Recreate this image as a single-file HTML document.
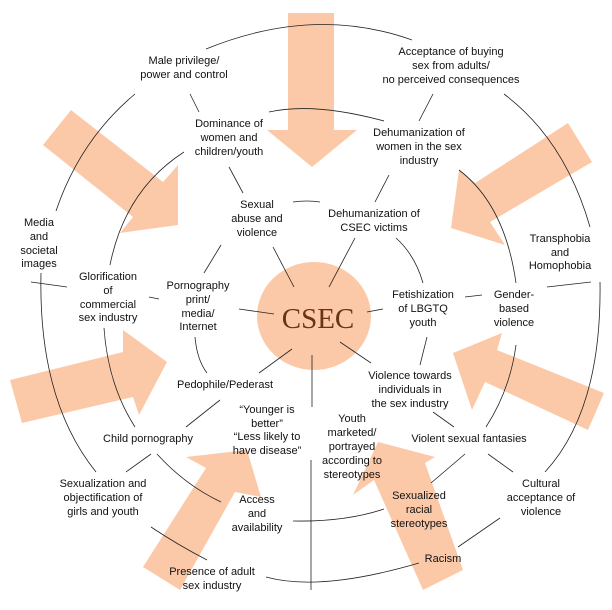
<!DOCTYPE html>
<html><head><meta charset="utf-8"><style>
html,body{margin:0;padding:0;background:#fff}
svg text{font-family:"Liberation Sans",sans-serif;font-size:11px;fill:#111;text-anchor:middle}
</style></head><body>
<svg width="612" height="605" viewBox="0 0 612 605" xmlns="http://www.w3.org/2000/svg">
<g fill="#fcc9a8">
<polygon points="288,13 334,13 334,130 357,130 312,167 267,130 288,130"/>
<polygon points="71,110 163,182 178,165 178,225 120,233 133,217 43,145"/>
<polygon points="568,123 592,162 490,222 505,245 451,228 459,170 475,183"/>
<polygon points="10,380 123,352 123,330 167,362 139,415 133,397 22,423"/>
<polygon points="604,393 588,430 485,382 472,410 453,353 502,333 497,350"/>
<polygon points="186,457 247,450 261,497 235,492 180,590 143,567 206,468"/>
<polygon points="378,442 435,457 425,463 463,570 423,590 374,480 353,495"/>
<ellipse cx="314" cy="316" rx="57" ry="54"/>
</g>
<g fill="none" stroke="#222" stroke-width="0.8">
<path d="M206 49 Q314 5 412 40"/>
<path d="M135 94 Q80 140 56 211"/>
<path d="M190 94 L199 112"/>
<path d="M269 112 Q314 102 384 121"/>
<path d="M433 94 L419 121"/>
<path d="M504 94 Q565 140 590 227"/>
<path d="M184 152 Q125 190 110 265"/>
<path d="M229 167 L243 193"/>
<path d="M293 202 Q307 200 320 202"/>
<path d="M389 175 L375 202"/>
<path d="M459 170 Q505 205 516 283"/>
<path d="M221 245 L204 273"/>
<path d="M273 247 L294 287"/>
<path d="M355 238 L329 287"/>
<path d="M396 238 Q415 255 423 283"/>
<path d="M41 273 Q38 400 96 472"/>
<path d="M31 282 L67 287"/>
<path d="M149 297 L159 299"/>
<path d="M547 287 L591 282"/>
<path d="M600 282 Q602 410 545 472"/>
<path d="M465 297 L482 295"/>
<path d="M239 309 L274 314"/>
<path d="M367 312 L383 309"/>
<path d="M104 328 Q108 385 135 427"/>
<path d="M195 337 Q197 360 207 373"/>
<path d="M292 349 L259 373"/>
<path d="M312 355 L312 407"/>
<path d="M340 342 L371 363"/>
<path d="M427 337 L420 365"/>
<path d="M516 345 Q510 390 486 427"/>
<path d="M220 400 L186 427"/>
<path d="M433 412 L454 427"/>
<path d="M151 454 L126 472"/>
<path d="M157 454 Q185 485 221 502"/>
<path d="M311 460 L311 590"/>
<path d="M465 454 L431 483"/>
<path d="M488 454 L513 472"/>
<path d="M293 521 Q345 522 384 509"/>
<path d="M151 527 Q178 545 207 560"/>
<path d="M500 518 L458 547"/>
<path d="M266 577 Q320 592 419 563"/>
</g>
<text x="184" y="64">Male privilege/</text><text x="184" y="78">power and control</text>
<text x="451" y="55">Acceptance of buying</text><text x="451" y="69">sex from adults/</text><text x="451" y="83">no perceived consequences</text>
<text x="229" y="127">Dominance of</text><text x="229" y="141">women and</text><text x="229" y="155">children/youth</text>
<text x="419" y="136">Dehumanization of</text><text x="419" y="150">women in the sex</text><text x="419" y="164">industry</text>
<text x="257" y="208">Sexual</text><text x="257" y="222">abuse and</text><text x="257" y="236">violence</text>
<text x="374" y="217">Dehumanization of</text><text x="374" y="231">CSEC victims</text>
<text x="39" y="226">Media</text><text x="39" y="240">and</text><text x="39" y="254">societal</text><text x="39" y="267">images</text>
<text x="560" y="242">Transphobia</text><text x="560" y="256">and</text><text x="560" y="269">Homophobia</text>
<text x="108" y="280">Glorification</text><text x="108" y="294">of</text><text x="108" y="308">commercial</text><text x="108" y="321">sex industry</text>
<text x="198" y="289">Pornography</text><text x="198" y="303">print/</text><text x="198" y="317">media/</text><text x="198" y="330">Internet</text>
<text x="318" y="328" style="font-family:'Liberation Serif',serif;font-size:29px;fill:#6b3218">CSEC</text>
<text x="423" y="298">Fetishization</text><text x="423" y="312">of LBGTQ</text><text x="423" y="326">youth</text>
<text x="514" y="298">Gender-</text><text x="514" y="312">based</text><text x="514" y="326">violence</text>
<text x="225" y="388">Pedophile/Pederast</text>
<text x="410" y="379">Violence towards</text><text x="410" y="393">individuals in</text><text x="410" y="407">the sex industry</text>
<text x="267" y="413">“Younger is</text><text x="267" y="427">better”</text><text x="267" y="440">“Less likely to</text><text x="267" y="454">have disease”</text>
<text x="352" y="422">Youth</text><text x="352" y="436">marketed/</text><text x="352" y="450">portrayed</text><text x="352" y="464">according to</text><text x="352" y="478">stereotypes</text>
<text x="148" y="442">Child pornography</text>
<text x="469" y="442">Violent sexual fantasies</text>
<text x="103" y="487">Sexualization and</text><text x="103" y="501">objectification of</text><text x="103" y="515">girls and youth</text>
<text x="257" y="503">Access</text><text x="257" y="517">and</text><text x="257" y="531">availability</text>
<text x="419" y="499">Sexualized</text><text x="419" y="513">racial</text><text x="419" y="527">stereotypes</text>
<text x="541" y="487">Cultural</text><text x="541" y="501">acceptance of</text><text x="541" y="515">violence</text>
<text x="443" y="562">Racism</text>
<text x="212" y="575">Presence of adult</text><text x="212" y="589">sex industry</text>
</svg>
</body></html>
